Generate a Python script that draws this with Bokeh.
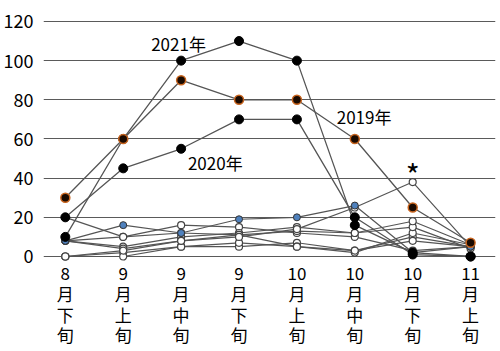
from bokeh.plotting import figure
from bokeh.models import FixedTicker, Range1d
from bokeh.core.properties import value
from bokeh.embed import file_html
from bokeh.resources import INLINE

categories = ["8\n月\n下\n旬", "9\n月\n上\n旬", "9\n月\n中\n旬", "9\n月\n下\n旬",
              "10\n月\n上\n旬", "10\n月\n中\n旬", "10\n月\n下\n旬", "11\n月\n上\n旬"]
y_ticks = [0, 20, 40, 60, 80, 100, 120]

y2021 = [10, 60, 100, 110, 100, 16, 2, 0]
y2020 = [20, 45, 55, 70, 70, 20, 1, 0]
y2019 = [30, 60, 90, 80, 80, 60, 25, 7]
blue_series = [8, 16, 12, 19, 20, 26, 2, 5]
minor_series = [
    [0, 2, 5, 5, 7, 3, 10, 5],
    [0, 0, 5, 7, 5, 2, 12, 6],
    [8, 10, 16, 15, 12, 10, 3, 5],
    [8, 5, 10, 12, 15, 12, 15, 4],
    [8, 4, 8, 11, 13, 12, 18, 6],
    [20, 10, 12, 11, 5, 3, 8, 5],
    [0, 3, 8, 10, 14, 25, 38, 5],
]
labels = ["2021年", "2020年", "2019年", "*"]
label_x = [1.955, 2.59, 5.16, 6.0]
label_y = [108.8, 48.0, 71.5, 42.0]

FONT = "Noto Sans CJK JP"
xs = list(range(len(categories)))

# frame: 0 at 256px, 120 at 21px; frame spans 19px..351px
PX_PER_UNIT = (256 - 21) / 120.0
Y_TOP = 121.0
Y_BOTTOM = -(351 - 256) / PX_PER_UNIT

p = figure(width=500, height=351, output_backend="svg", toolbar_location=None,
           x_range=Range1d(-0.377, 7.43), y_range=Range1d(Y_BOTTOM, Y_TOP),
           x_axis_location=None,
           min_border_left=40, min_border_right=5, min_border_top=19, min_border_bottom=0)
p.outline_line_color = None
p.background_fill_color = "white"

p.xgrid.grid_line_color = None
p.ygrid.ticker = FixedTicker(ticks=y_ticks)
p.ygrid.grid_line_color = "#5a5a5a"
p.ygrid.grid_line_width = 1.2

p.yaxis.ticker = FixedTicker(ticks=y_ticks)
p.yaxis.axis_line_color = None
p.yaxis.major_tick_line_color = None
p.yaxis.minor_tick_line_color = None
p.yaxis.major_label_text_font = FONT
p.yaxis.major_label_text_font_size = "18px"
p.yaxis.major_label_text_color = "black"
p.yaxis.major_label_standoff = 4

line_color = "#555555"
for s in minor_series + [blue_series]:
    p.line(xs, s, line_color=line_color, line_width=1.2)
for s in [y2021, y2020, y2019]:
    p.line(xs, s, line_color=line_color, line_width=1.3)

for s in minor_series:
    p.scatter(xs, s, size=7, fill_color="white", line_color="#444444", line_width=1.2)
p.scatter(xs, blue_series, size=7, fill_color="#4f81bd", line_color="#333333", line_width=1)
p.scatter(xs, y2021, size=9, fill_color="black", line_color="black")
p.scatter(xs, y2020, size=9, fill_color="black", line_color="black")
p.scatter(xs, y2019, size=9, fill_color="#1a0a00", line_color="#c8641e", line_width=1.5)

p.text(label_x[:3], label_y[:3], text=labels[:3], text_font=value(FONT),
       text_font_size="17px", text_align="center", text_baseline="middle", text_color="black")
p.text(label_x[3:], label_y[3:], text=labels[3:], text_font=value(FONT),
       text_font_size="30px", text_align="center", text_baseline="middle", text_color="black")

# stacked category labels below the plot area
split = [c.split("\n") for c in categories]
first_line_px = 273
line_step_px = 20.5
for k in range(4):
    yk = -(first_line_px + k * line_step_px - 256) / PX_PER_UNIT
    p.text(xs, [yk] * len(xs), text=[s[k] for s in split], text_font=value(FONT),
           text_font_size="17px", text_align="center", text_baseline="middle",
           text_color="black")

open("out.html", "w").write(file_html(p, INLINE))
